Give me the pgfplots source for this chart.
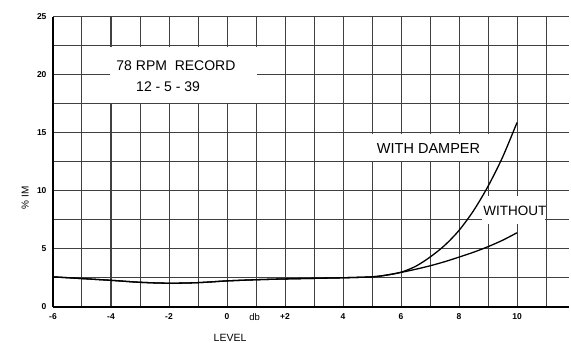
\documentclass[border=0pt]{standalone}
\usepackage{fontspec}
\setmainfont{Liberation Sans}
\usepackage{pgfplots}
\pgfplotsset{compat=1.18}

\pgfplotstableread{
x y
-6 2.6
-5 2.45
-4 2.3
-3 2.13
-2 2.05
-1 2.1
0 2.25
1 2.35
2 2.42
3 2.47
4 2.52
5 2.6
5.5 2.75
6 3.0
6.5 3.5
7 4.3
7.5 5.3
8 6.6
8.5 8.3
9 10.4
9.5 12.9
10 15.9
}\damper

\pgfplotstableread{
x y
-6 2.6
-5 2.45
-4 2.3
-3 2.13
-2 2.05
-1 2.1
0 2.25
1 2.35
2 2.42
3 2.47
4 2.52
5 2.6
5.5 2.75
6 2.98
6.5 3.25
7 3.55
7.5 3.9
8 4.3
8.5 4.72
9 5.2
9.5 5.75
10 6.4
}\without

\begin{document}
\begin{tikzpicture}
\begin{axis}[
  x=29pt, y=11.6pt,
  xmin=-6, xmax=11.8, ymin=0, ymax=25,
  axis x line*=bottom, axis y line*=left,
  axis line style={line width=1.5pt, black, -},
  every outer x axis line/.append style={-},
  every outer y axis line/.append style={-},
  xtick={-6,-4,...,10},
  xticklabels={-6,-4,-2,0,+2,4,6,8,10},
  minor xtick={-5,-3,...,11},
  ytick={0,5,...,25},
  minor ytick={2.5,7.5,...,22.5},
  grid=both,
  major grid style={line width=1pt, black!75},
  minor grid style={line width=1pt, black!75},
  major tick length=0pt, minor tick length=0pt,
  tick label style={font=\fontsize{8.5}{9}\selectfont\bfseries},
  /pgf/number format/assume math mode=true,
  xticklabel style={yshift=-3pt},
  yticklabel style={xshift=-3pt},
  ylabel={\% IM},
  ylabel style={at={(axis description cs:-0.054,0.376)}, anchor=center, font=\fontsize{10}{11}\selectfont},
  xlabel={LEVEL},
  xlabel style={at={(axis description cs:0.343,0)}, yshift=-31pt, anchor=center, font=\fontsize{10.5}{11}\selectfont},
  clip=false,
]
\fill[white] (axis cs:-4.05,17.62) rectangle (axis cs:1.05,22.38);
\fill[white] (axis cs:4.92,12.62) rectangle (axis cs:9.06,14.88);
\fill[white] (axis cs:8.8,7.15) rectangle (axis cs:10.96,9.6);
\addplot[black, line width=1.3pt, smooth] table[x=x,y=y] {\damper};
\addplot[black, line width=1.3pt, smooth] table[x=x,y=y] {\without};
\node[font=\fontsize{14}{15}\selectfont] at (axis cs:-1.76,20.8) {78 RPM\ \ RECORD};
\node[font=\fontsize{14}{15}\selectfont] at (axis cs:-2.03,19.0) {12 - 5 - 39};
\node[font=\fontsize{14.5}{15}\selectfont] at (axis cs:6.95,13.7) {WITH DAMPER};
\node[font=\fontsize{13.5}{14}\selectfont] at (axis cs:9.93,8.3) {WITHOUT};
\node[font=\fontsize{9.5}{10}\selectfont] at (axis cs:0.95,0) [yshift=-10pt] {db};
\end{axis}
\pgfresetboundingbox
\path[use as bounding box] (-53pt,-36pt) rectangle (518pt,307pt);
\end{tikzpicture}
\end{document}
